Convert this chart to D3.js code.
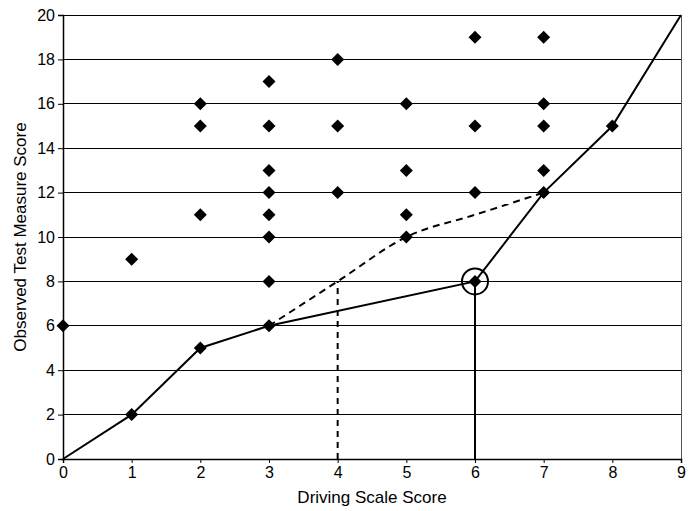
<!DOCTYPE html>
<html>
<head>
<meta charset="utf-8">
<script src="https://cdn.jsdelivr.net/npm/d3@7"></script>
<style>
  body { margin: 0; background: #fff; }
  text { font-family: "Liberation Sans", Arial, sans-serif; }
</style>
</head>
<body>
<svg id="chart" width="696" height="511"></svg>
<script>
// scatter points
var pointX = [0, 1, 1, 2, 2, 2, 2, 3, 3, 3, 3, 3, 3, 3, 3, 4, 4, 4, 5, 5, 5, 5, 6, 6, 6, 6, 7, 7, 7, 7, 7, 8];
var pointY = [6, 2, 9, 5, 11, 15, 16, 6, 8, 10, 11, 12, 13, 15, 17, 12, 15, 18, 10, 11, 13, 16, 8, 12, 15, 19, 12, 13, 15, 16, 19, 15];

// solid piecewise line
var solidX = [0, 1, 2, 3, 6, 7, 8, 9];
var solidY = [0, 2, 5, 6, 8, 12, 15, 20];

// dashed curve
var dashX = [3, 4, 5, 6, 7];
var dashY = [6, 8, 10, 11, 12];

var xTicks = [0, 1, 2, 3, 4, 5, 6, 7, 8, 9];
var yTicks = [0, 2, 4, 6, 8, 10, 12, 14, 16, 18, 20];

var svg = d3.select('#chart');
var mLeft = 63, mRight = 681, mTop = 15, mBottom = 459;

var x = d3.scaleLinear().domain([0, 9]).range([mLeft, mRight]);
var y = d3.scaleLinear().domain([0, 20]).range([mBottom, mTop]);

// gridlines
svg.append('g').selectAll('line').data(yTicks.slice(1)).join('line')
  .attr('x1', mLeft).attr('x2', mRight)
  .attr('y1', function (d) { return y(d); }).attr('y2', function (d) { return y(d); })
  .attr('stroke', '#000').attr('stroke-width', 1).attr('shape-rendering', 'crispEdges');

// right border
svg.append('line').attr('x1', mRight).attr('x2', mRight).attr('y1', mTop).attr('y2', mBottom)
  .attr('stroke', '#555').attr('stroke-width', 1).attr('shape-rendering', 'crispEdges');

// axes
var xAxis = svg.append('g').attr('transform', 'translate(0,' + mBottom + ')')
  .call(d3.axisBottom(x).tickValues(xTicks).tickSize(4).tickPadding(4).tickFormat(d3.format('d')));
var yAxis = svg.append('g').attr('transform', 'translate(' + mLeft + ',0)')
  .call(d3.axisLeft(y).tickValues(yTicks).tickSize(5).tickPadding(3).tickFormat(d3.format('d')));
[xAxis, yAxis].forEach(function (a) {
  a.select('.domain').attr('stroke', '#000').attr('stroke-width', 1.5);
  a.selectAll('.tick line').attr('stroke', '#000');
  a.selectAll('.tick text').attr('fill', '#000').style('font-size', '16px')
    .style('font-family', '"Liberation Sans", Arial, sans-serif');
});

// vertical drop lines
svg.append('line').attr('x1', x(4)).attr('x2', x(4)).attr('y1', y(0)).attr('y2', y(8))
  .attr('stroke', '#000').attr('stroke-width', 2).attr('stroke-dasharray', '6,5');
svg.append('line').attr('x1', x(6)).attr('x2', x(6)).attr('y1', y(0)).attr('y2', y(8))
  .attr('stroke', '#000').attr('stroke-width', 2);

// dashed curve
var dashLine = d3.line()
  .x(function (d) { return x(d[0]); })
  .y(function (d) { return y(d[1]); })
  .curve(d3.curveMonotoneX);
svg.append('path').datum(d3.zip(dashX, dashY)).attr('d', dashLine)
  .attr('fill', 'none').attr('stroke', '#000').attr('stroke-width', 2).attr('stroke-dasharray', '7,5');

// solid line
var solidLine = d3.line()
  .x(function (d) { return x(d[0]); })
  .y(function (d) { return y(d[1]); });
svg.append('path').datum(d3.zip(solidX, solidY)).attr('d', solidLine)
  .attr('fill', 'none').attr('stroke', '#000').attr('stroke-width', 2);

// diamonds
var diamond = d3.symbol().type(d3.symbolDiamond2).size(108);
svg.append('g').selectAll('path').data(d3.zip(pointX, pointY)).join('path')
  .attr('d', diamond)
  .attr('transform', function (d) { return 'translate(' + x(d[0]) + ',' + y(d[1]) + ')'; })
  .attr('fill', '#000');

// highlight circle
svg.append('circle').attr('cx', x(6)).attr('cy', y(8)).attr('r', 13)
  .attr('fill', 'none').attr('stroke', '#000').attr('stroke-width', 2);

// labels
svg.append('text').attr('x', (mLeft + mRight) / 2).attr('y', 503)
  .attr('text-anchor', 'middle').style('font-size', '17px').text('Driving Scale Score');
svg.append('text').attr('transform', 'translate(26,' + ((mTop + mBottom) / 2) + ') rotate(-90)')
  .attr('text-anchor', 'middle').style('font-size', '17px').text('Observed Test Measure Score');
</script>
</body>
</html>
